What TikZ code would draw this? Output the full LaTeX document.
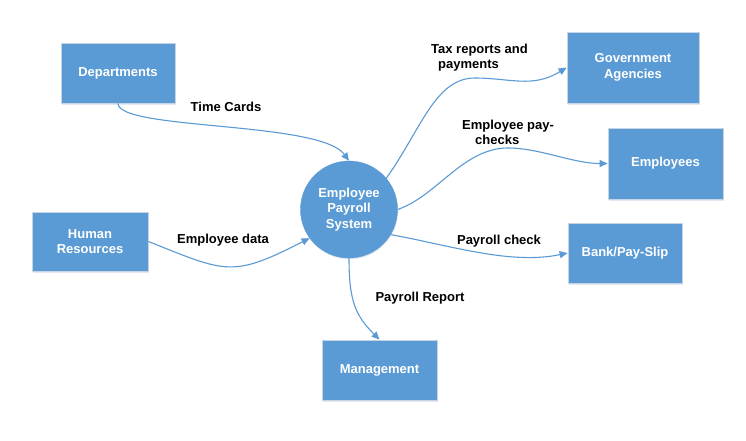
\documentclass[tikz,border=0pt]{standalone}
\usepackage{fontspec}
\setmainfont{Liberation Sans}
\usetikzlibrary{arrows.meta,shadows}
\definecolor{boxblue}{HTML}{5B9BD5}
\definecolor{boxedge}{HTML}{C5D3E3}
\definecolor{linkblue}{HTML}{5B9BD5}
\definecolor{shade}{HTML}{E3E9F0}
\begin{document}
\begin{tikzpicture}[x=1pt,y=-1pt,
  txt/.style={font=\bfseries\fontsize{13}{15.5}\selectfont},
  entity/.style={txt, rectangle, fill=boxblue, draw=boxedge, line width=0.8pt,
    text=white, align=center, inner sep=0pt,
    general shadow={fill=shade, draw=none, shadow xshift=0.8pt, shadow yshift=-1.8pt}},
  proc/.style={txt, circle, fill=boxblue, draw=boxblue, minimum size=97pt,
    text=white, align=center, inner sep=0pt,
    general shadow={fill=shade, draw=none, shadow xshift=0.6pt, shadow yshift=-1.4pt}},
  flow/.style={draw=linkblue, line width=1.1pt, -{Triangle[length=8pt,width=7pt]}},
  lbl/.style={txt, text=black, align=left, inner sep=0pt}]
\useasboundingbox[fill=white] (0,0) rectangle (746,440);

\node[entity, minimum width=114pt, minimum height=60pt] (dep) at (118,73) {Departments};
\node[entity, minimum width=116pt, minimum height=59pt] (hr) at (90,241.5) {Human\\Resources};
\node[entity, minimum width=132pt, minimum height=71pt] (gov) at (633,67.5) {Government\\Agencies};
\node[entity, minimum width=115pt, minimum height=71pt] (emp) at (665.5,163.5) {Employees};
\node[entity, minimum width=114pt, minimum height=60pt] (bank) at (625,253) {Bank/Pay-Slip};
\node[entity, minimum width=115pt, minimum height=60pt] (mgmt) at (379.5,370) {Management};
\node[proc] (sys) at (349,209.5) {Employee\\Payroll\\System};

\draw[flow] (dep.south) .. controls +(0,27) and +(-29,-40) .. (sys.north);
\draw[flow] (hr.east) .. controls +(78,31) and +(-78,40) .. (sys.216);
\draw[flow] (sys.40) .. controls +(35,-49) and +(-40,0) .. (475,78)
  .. controls +(35,0) and +(-34,21) .. (gov.west);
\draw[flow] (sys.east) .. controls +(40,-14) and +(-45,0) .. (508,148)
  .. controls +(32,0) and +(-35,0) .. (emp.west);
\draw[flow] (sys.-31) .. controls +(60,11) and +(-57,12) .. (bank.west);
\draw[flow] (sys.south) .. controls +(0,43) and +(-24,-24) .. (mgmt.north);

\node[lbl] (l1) at (226,107) {Time Cards};
\node[lbl] (l2) at (223,240) {Employee data};
\node[lbl, anchor=west] (l3) at (431,57.5) {Tax reports and\\\hspace*{7pt}payments};
\node[lbl, anchor=west] (l4) at (462,132.5) {Employee pay-\\\hspace*{13pt}checks};
\node[lbl] (l5) at (499,241) {Payroll check};
\node[lbl] (l6) at (420,298) {Payroll Report};
\end{tikzpicture}
\end{document}
